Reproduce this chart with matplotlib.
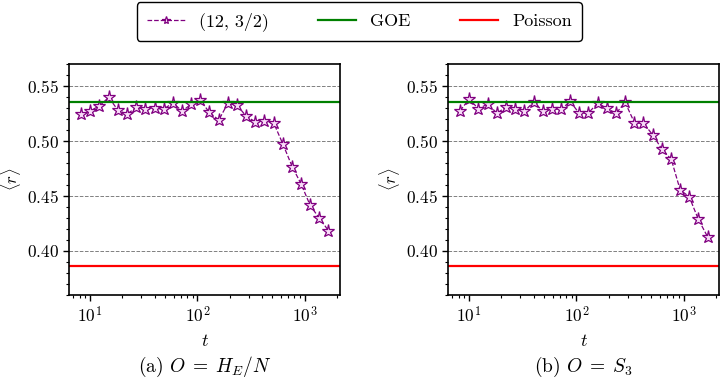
import matplotlib
matplotlib.use("Agg")
import matplotlib.pyplot as plt
from matplotlib.ticker import MultipleLocator
import numpy as np

plt.rcParams['font.family'] = 'serif'
plt.rcParams['font.serif'] = ['cmr10', 'DejaVu Serif']
plt.rcParams['mathtext.fontset'] = 'cm'
plt.rcParams['axes.formatter.use_mathtext'] = True
plt.rcParams['axes.unicode_minus'] = False

# time points
t = [8.24, 10.0, 12.2, 14.9, 18.2, 22.1, 27.0, 32.7, 40.1, 48.6, 59.4, 72.0,
     87.3, 106, 129, 158, 192, 234, 284, 347, 421, 515, 625, 764, 925,
     1122, 1362, 1663]

# <r> for O = H_E/N
r_a = [0.5245, 0.5275, 0.5318, 0.5397, 0.5279, 0.5245, 0.5306, 0.5288,
       0.5297, 0.5291, 0.5348, 0.5270, 0.5336, 0.5373, 0.5261, 0.5191,
       0.5343, 0.5325, 0.5227, 0.5173, 0.5185, 0.5161, 0.4973, 0.4766,
       0.4609, 0.4415, 0.4300, 0.4185]

# <r> for O = S_3
r_b = [0.5275, 0.5382, 0.5294, 0.5336, 0.5252, 0.5312, 0.5294, 0.5270,
       0.5357, 0.5270, 0.5294, 0.5288, 0.5361, 0.5252, 0.5255, 0.5345,
       0.5297, 0.5252, 0.5352, 0.5166, 0.5161, 0.5055, 0.4925, 0.4834,
       0.4555, 0.4494, 0.4291, 0.4130]

r_goe = 4 - 2 * np.sqrt(3)     # 0.5359
r_poisson = 2 * np.log(2) - 1  # 0.3863

captions = [r'(a) $O\;=\;H_E/N$', r'(b) $O\;=\;S_3$']

fig = plt.figure(figsize=(7.21, 3.78), dpi=100)
ax1 = fig.add_axes([0.0961, 0.2196, 0.3755, 0.611])
ax2 = fig.add_axes([0.6218, 0.2196, 0.3755, 0.611])

for ax, r, cap in zip([ax1, ax2], [r_a, r_b], captions):
    ax.plot(t, r, ls='--', lw=0.9, color='purple', marker='*', ms=9.5,
            mfc='#f8dcf8', mec='purple', mew=0.9, label='(12, 3/2)')
    ax.axhline(r_goe, color='green', lw=1.6, label='GOE')
    ax.axhline(r_poisson, color='red', lw=1.6, label='Poisson')
    ax.set_xscale('log')
    ax.set_xlim(6.4, 2130)
    ax.set_ylim(0.36, 0.57)
    ax.yaxis.set_major_locator(MultipleLocator(0.05))
    ax.yaxis.set_minor_locator(MultipleLocator(0.01))
    ax.yaxis.set_major_formatter(matplotlib.ticker.FormatStrFormatter('$%.2f$'))
    ax.grid(axis='y', which='major', ls='--', color='gray', lw=0.7)
    ax.tick_params(which='major', length=4, width=1, labelsize=12.5)
    ax.tick_params(which='minor', length=2.5, width=0.8)
    for s in ax.spines.values():
        s.set_linewidth(1.2)
    ax.set_xlabel(r'$t$', fontsize=13, labelpad=5)
    ax.set_ylabel(r'$\langle r\rangle$', fontsize=12)
    ax.yaxis.set_label_coords(-0.172, 0.5)
    ax.text(0.5, -0.312, cap, transform=ax.transAxes, ha='center',
            va='center', fontsize=14)

h, l = ax1.get_legend_handles_labels()
fig.legend(h, l, loc='upper center', bbox_to_anchor=(0.4985, 0.995), ncol=3,
           fontsize=13, frameon=True, fancybox=True, edgecolor='black',
           framealpha=1, handlelength=2.1, columnspacing=2.75,
           borderpad=0.55, borderaxespad=0, handletextpad=0.78,
           markerscale=0.6)

fig.savefig('out.png', dpi=100)
